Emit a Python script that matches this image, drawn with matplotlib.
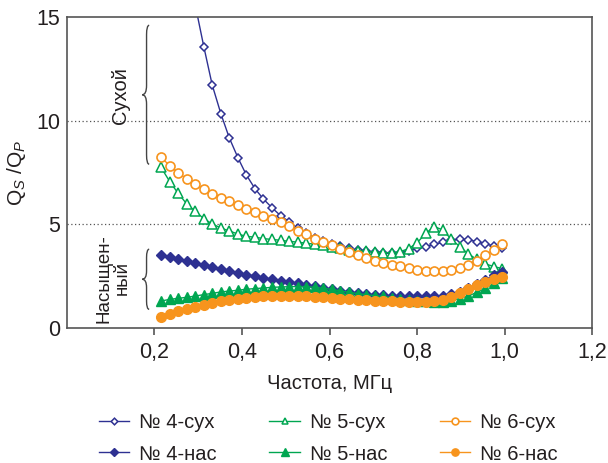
import matplotlib
matplotlib.use("Agg")
import matplotlib.pyplot as plt
from matplotlib.path import Path
from matplotlib.patches import PathPatch

plt.rcParams['font.family'] = ['Liberation Sans', 'DejaVu Sans']
plt.rcParams['mathtext.fontset'] = 'custom'
plt.rcParams['mathtext.rm'] = 'Liberation Sans'
plt.rcParams['mathtext.it'] = 'Liberation Sans:italic'

# frequency, MHz
freq = [0.215, 0.235, 0.254, 0.274, 0.293, 0.313, 0.332, 0.352, 0.371, 0.391,
        0.410, 0.430, 0.449, 0.469, 0.488, 0.508, 0.527, 0.547, 0.566, 0.586,
        0.605, 0.625, 0.644, 0.664, 0.683, 0.703, 0.722, 0.742, 0.761, 0.781,
        0.800, 0.820, 0.839, 0.859, 0.878, 0.898, 0.917, 0.937, 0.956, 0.976,
        0.995]

s4_dry = [27.5, 24.0, 20.8, 18.0, 15.6, 13.55, 11.72, 10.32, 9.17, 8.20,
          7.38, 6.71, 6.22, 5.79, 5.42, 5.12, 4.82, 4.56, 4.36, 4.19,
          4.05, 3.94, 3.84, 3.77, 3.71, 3.66, 3.62, 3.60, 3.63, 3.73,
          3.84, 3.92, 4.04, 4.13, 4.23, 4.28, 4.25, 4.17, 4.05, 3.96,
          3.84]
s5_dry = [7.75, 7.06, 6.50, 5.98, 5.63, 5.27, 5.02, 4.82, 4.68, 4.53,
          4.42, 4.38, 4.31, 4.27, 4.23, 4.18, 4.14, 4.09, 4.04, 3.98,
          3.91, 3.84, 3.77, 3.73, 3.70, 3.67, 3.64, 3.63, 3.68, 3.83,
          4.11, 4.57, 4.89, 4.73, 4.28, 3.92, 3.57, 3.31, 3.09, 2.96,
          2.86]
s6_dry = [8.23, 7.83, 7.48, 7.20, 6.93, 6.69, 6.48, 6.29, 6.11, 5.92,
          5.74, 5.58, 5.40, 5.27, 5.12, 4.91, 4.69, 4.52, 4.31, 4.16,
          4.00, 3.81, 3.67, 3.52, 3.38, 3.25, 3.14, 3.06, 2.98, 2.89,
          2.81, 2.76, 2.75, 2.76, 2.81, 2.91, 3.04, 3.25, 3.51, 3.78,
          4.07]
s4_sat = [3.52, 3.41, 3.31, 3.22, 3.12, 3.02, 2.93, 2.83, 2.75, 2.65,
          2.57, 2.51, 2.41, 2.36, 2.29, 2.22, 2.16, 2.09, 2.01, 1.93,
          1.87, 1.80, 1.74, 1.69, 1.64, 1.60, 1.57, 1.55, 1.53, 1.52,
          1.52, 1.52, 1.53, 1.56, 1.62, 1.75, 1.92, 2.10, 2.32, 2.55,
          2.70]
s5_sat = [1.30, 1.38, 1.43, 1.48, 1.54, 1.61, 1.67, 1.74, 1.78, 1.82,
          1.87, 1.90, 1.93, 1.96, 1.98, 1.99, 2.00, 1.99, 1.96, 1.92,
          1.86, 1.79, 1.72, 1.66, 1.61, 1.56, 1.52, 1.47, 1.42, 1.37,
          1.32, 1.28, 1.26, 1.27, 1.32, 1.42, 1.55, 1.72, 1.92, 2.15,
          2.40]
s6_sat = [0.55, 0.68, 0.81, 0.92, 1.03, 1.11, 1.21, 1.29, 1.35, 1.41,
          1.46, 1.50, 1.53, 1.55, 1.56, 1.55, 1.54, 1.52, 1.50, 1.48,
          1.45, 1.42, 1.39, 1.36, 1.34, 1.32, 1.30, 1.28, 1.26, 1.25,
          1.25, 1.26, 1.29, 1.36, 1.50, 1.68, 1.88, 2.07, 2.22, 2.35,
          2.47]

xticks = [0.2, 0.4, 0.6, 0.8, 1.0, 1.2]
xticklabels = ['0,2', '0,4', '0,6', '0,8', '1,0', '1,2']
yticks = [0, 5, 10, 15]

blue = '#2e3192'
green = '#00a651'
orange = '#f7941d'
text_col = '#231f20'

fig = plt.figure(figsize=(6.08, 4.63), dpi=100)
ax = fig.add_axes([0.110, 0.2916, 0.864, 0.6717])

for y in [5, 10]:
    ax.axhline(y, color='#555555', lw=0.9, ls=(0, (1, 2)), zorder=1)

h4d, = ax.plot(freq, s4_dry, color=blue, lw=1, marker='D', ms=4.5, mfc='white', mec=blue, mew=1.1, label='№ 4-сух')
h5d, = ax.plot(freq, s5_dry, color=green, lw=1, marker='^', ms=6.5, mfc='white', mec=green, mew=1.1, label='№ 5-сух')
h6d, = ax.plot(freq, s6_dry, color=orange, lw=1, marker='o', ms=6.5, mfc='white', mec=orange, mew=1.2, label='№ 6-сух')
h4s, = ax.plot(freq, s4_sat, color=blue, lw=1, marker='D', ms=5, mfc=blue, mec=blue, label='№ 4-нас')
h5s, = ax.plot(freq, s5_sat, color=green, lw=1, marker='^', ms=7, mfc=green, mec=green, label='№ 5-нас')
h6s, = ax.plot(freq, s6_sat, color=orange, lw=1, marker='o', ms=7, mfc=orange, mec=orange, label='№ 6-нас')

ax.set_xlim(0, 1.2)
ax.set_ylim(0, 15)
ax.set_xticks(xticks)
ax.set_xticklabels(xticklabels)
ax.set_yticks(yticks)
ax.tick_params(axis='x', direction='out', length=5, width=1.2, color='#555555',
               labelsize=15.5, labelcolor=text_col, pad=5)
ax.tick_params(axis='y', length=0, labelsize=15.5, labelcolor=text_col, pad=5)
for sp in ax.spines.values():
    sp.set_color('#555555')
    sp.set_linewidth(1.2)

ax.set_xlabel('Частота, МГц', fontsize=14.5, color=text_col, labelpad=8)
ax.set_ylabel(r'Q$_S$ /Q$_{\mathit{P}}$', fontsize=15, color=text_col, labelpad=6)


def brace(ax, xr, xm, xt, y0, y1, d):
    ym = (y0 + y1) / 2
    verts = [(xr, y1), (xm, y1), (xm, y1 - d), (xm, ym + d), (xm, ym), (xt, ym),
             (xm, ym), (xm, ym - d), (xm, y0 + d), (xm, y0), (xr, y0)]
    codes = [Path.MOVETO, Path.CURVE3, Path.CURVE3, Path.LINETO, Path.CURVE3, Path.CURVE3,
             Path.CURVE3, Path.CURVE3, Path.LINETO, Path.CURVE3, Path.CURVE3]
    ax.add_patch(PathPatch(Path(verts, codes), fill=False, ec='#444444', lw=1, clip_on=False))


brace(ax, 0.188, 0.182, 0.172, 7.9, 14.6, 0.45)
brace(ax, 0.188, 0.182, 0.172, 0.9, 3.8, 0.4)

ax.text(0.123, 11.2, 'Сухой', rotation=90, ha='center', va='center', fontsize=14.5, color=text_col)
ax.text(0.105, 2.4, 'Насыщен-\nный', rotation=90, ha='center', va='center', fontsize=13.5,
        color=text_col, linespacing=1.1, multialignment='center')

fig.legend([h4d, h4s, h5d, h5s, h6d, h6s],
           ['№ 4-сух', '№ 4-нас', '№ 5-сух', '№ 5-нас', '№ 6-сух', '№ 6-нас'],
           ncol=3, loc='center', bbox_to_anchor=(0.54, 0.053), frameon=False,
           fontsize=14.5, handlelength=1.5, handletextpad=0.5, columnspacing=2.6,
           labelspacing=0.6, borderpad=0, markerscale=0.75, labelcolor=text_col)

fig.savefig('out.png', dpi=100)
